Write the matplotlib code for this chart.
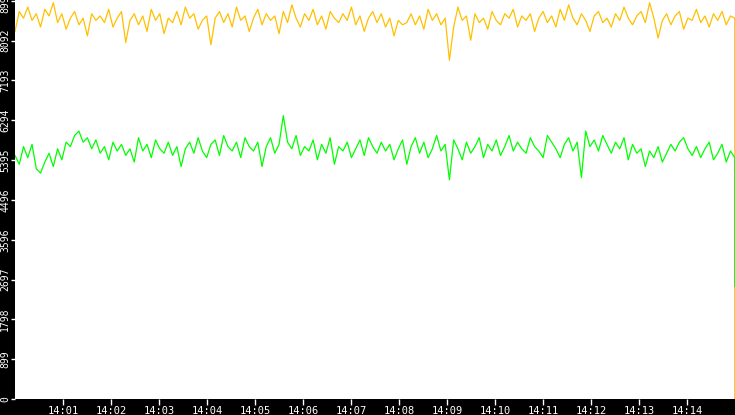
import numpy as np
import matplotlib
matplotlib.use("Agg")
import matplotlib.pyplot as plt

yellow = [
8300, 8750, 8600, 8850, 8550, 8700, 8400, 8800, 8650, 8950, 8500, 8700, 8350, 8600, 8750, 8450, 8600, 8200, 8700, 8550,
8650, 8500, 8800, 8400, 8600, 8750, 8050, 8550, 8700, 8450, 8650, 8300, 8800, 8550, 8700, 8250, 8600, 8500, 8750, 8450,
8850, 8600, 8700, 8350, 8550, 8650, 8000, 8600, 8750, 8500, 8700, 8400, 8850, 8550, 8650, 8300, 8600, 8800, 8450, 8700,
8550, 8650, 8250, 8750, 8500, 8900, 8600, 8400, 8700, 8550, 8800, 8450, 8650, 8350, 8750, 8600, 8500, 8700, 8550, 8850,
8450, 8650, 8300, 8600, 8750, 8500, 8700, 8400, 8600, 8200, 8550, 8450, 8500, 8700, 8450, 8650, 8350, 8800, 8550, 8700,
8450, 8600, 7650, 8400, 8850, 8550, 8650, 8100, 8700, 8500, 8600, 8350, 8750, 8550, 8450, 8700, 8600, 8800, 8400, 8650,
8550, 8700, 8300, 8600, 8750, 8500, 8650, 8400, 8800, 8550, 8900, 8600, 8450, 8700, 8550, 8300, 8650, 8750, 8500, 8600,
8400, 8700, 8550, 8850, 8600, 8450, 8650, 8750, 8500, 8950, 8600, 8150, 8550, 8700, 8450, 8650, 8750, 8350, 8600, 8550,
8800, 8500, 8650, 8400, 8700, 8550, 8750, 8450, 8650, 8600, 0]

green = [
5500, 5300, 5700, 5450, 5750, 5200, 5100, 5350, 5550, 5250, 5650, 5400, 5800, 5700, 5950, 6050, 5800, 5900, 5650, 5850,
5550, 5700, 5400, 5800, 5600, 5750, 5500, 5650, 5350, 5900, 5600, 5750, 5450, 5850, 5650, 5550, 5800, 5500, 5700, 5250,
5650, 5800, 5550, 5900, 5600, 5450, 5750, 5850, 5500, 5950, 5700, 5600, 5800, 5450, 5900, 5700, 5600, 5800, 5250, 5700,
5900, 5550, 5750, 6400, 5800, 5650, 5950, 5500, 5700, 5600, 5850, 5400, 5750, 5550, 5900, 5300, 5700, 5600, 5800, 5450,
5650, 5850, 5500, 5900, 5700, 5550, 5800, 5600, 5750, 5400, 5650, 5850, 5300, 5700, 5900, 5550, 5800, 5450, 5650, 5950,
5600, 5750, 4950, 5850, 5650, 5400, 5800, 5550, 5700, 5900, 5450, 5750, 5600, 5850, 5500, 5700, 5950, 5600, 5800, 5650,
5550, 5900, 5700, 5600, 5450, 5950, 5800, 5650, 5450, 5750, 5900, 5600, 5800, 5000, 6050, 5700, 5850, 5600, 5950, 5750,
5550, 5800, 5650, 5900, 5400, 5750, 5550, 5650, 5250, 5600, 5450, 5700, 5350, 5550, 5750, 5600, 5800, 5900, 5650, 5500,
5700, 5450, 5650, 5800, 5400, 5550, 5750, 5350, 5600, 5450, 2540]

ytick_vals = [0, 899, 1798, 2697, 3596, 4496, 5395, 6294, 7193, 8092, 8992]
xtick_labels = ["14:01", "14:02", "14:03", "14:04", "14:05", "14:06", "14:07",
                "14:08", "14:09", "14:10", "14:11", "14:12", "14:13", "14:14"]

fig = plt.figure(figsize=(7.35, 4.15), dpi=100, facecolor="black")
ax = fig.add_axes([15/735, 16/415, 720/735, 399/415])
ax.set_facecolor("white")

def times(n):
    return np.append(np.linspace(0, 14.995, n - 1), 14.995)

ax.plot(times(len(yellow)), yellow, color="#FFC000", lw=0.9)
ax.plot(times(len(green)), green, color="#00FF00", lw=0.9)

ax.set_xlim(0, 15)
ax.set_ylim(0, 9010)
ax.set_yticks(ytick_vals)
ax.set_yticklabels([str(v) for v in ytick_vals], rotation=90, va="center",
                   fontsize=7, family="DejaVu Sans Mono", color="white")
ax.set_xticks(np.arange(1, 15))
ax.set_xticklabels(xtick_labels, fontsize=7.5, family="DejaVu Sans Mono", color="white")
ax.tick_params(axis="y", colors="white", length=3, width=1, pad=0.5)
ax.tick_params(axis="x", colors="white", length=4, width=1, pad=1)
for s in ax.spines.values():
    s.set_visible(False)

fig.savefig("out.png", dpi=100, facecolor="black")
